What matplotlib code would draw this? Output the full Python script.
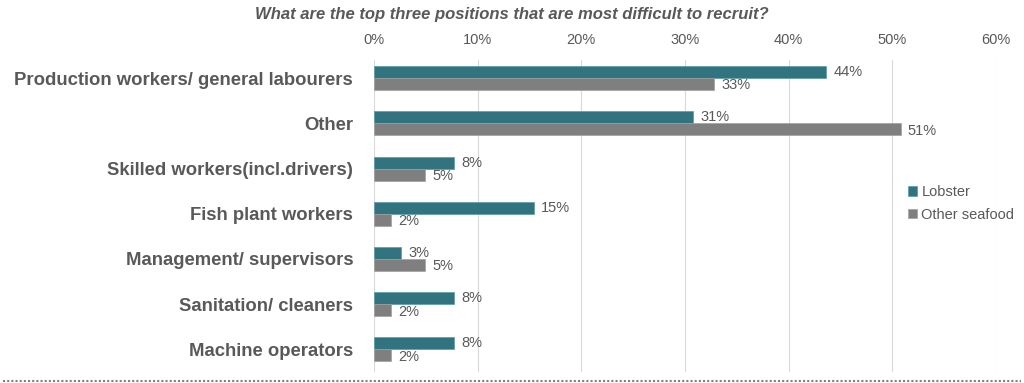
import matplotlib.pyplot as plt
import numpy as np
from matplotlib.lines import Line2D

categories = ["Production workers/ general labourers", "Other",
              "Skilled workers(incl.drivers)", "Fish plant workers",
              "Management/ supervisors", "Sanitation/ cleaners",
              "Machine operators"]
lobster = [43.6, 30.8, 7.7, 15.4, 2.6, 7.7, 7.7]
other_seafood = [32.8, 50.8, 4.9, 1.6, 4.9, 1.6, 1.6]
series_names = ["Lobster", "Other seafood"]

teal = "#31737F"
grey = "#7F7F7F"
txt = "#595959"

plt.rcParams['font.family'] = ['Liberation Sans', 'DejaVu Sans']

fig = plt.figure(figsize=(10.24, 3.83), dpi=100)
ax = fig.add_axes([374/1024, 1 - 372/383, 622/1024, 312/383])

y = np.arange(len(categories))
h = 0.265
b1 = ax.barh(y - h/2, lobster, height=h, color=teal, edgecolor="#5a9aa5", linewidth=0.5, label=series_names[0])
b2 = ax.barh(y + h/2, other_seafood, height=h, color=grey, edgecolor="#a0a0a0", linewidth=0.5, label=series_names[1])

for bars, vals, dy in [(b1, lobster, -h/2), (b2, other_seafood, h/2 + 0.03)]:
    for yi, v in zip(y, vals):
        ax.text(v + 0.7, yi + dy, f"{v:.0f}%", va="center", ha="left", fontsize=10.5, color=txt)

ax.set_xlim(0, 60)
ax.set_ylim(6.5, -0.4)
ax.set_xticks(range(0, 61, 10))
ax.set_xticklabels([f"{t}%" for t in range(0, 61, 10)])
ax.xaxis.tick_top()
ax.tick_params(axis="x", length=0, pad=9, labelsize=10.5, labelcolor=txt)
ax.set_yticks(y)
ax.set_yticklabels(categories, fontsize=13.3, fontweight="bold", color=txt)
ax.tick_params(axis="y", length=0, pad=15)
ax.grid(axis="x", color="#d9d9d9", linewidth=0.8)
ax.set_axisbelow(True)
for s in ax.spines.values():
    s.set_visible(False)

ax.legend(loc="center left", bbox_to_anchor=(0.838, 0.54), frameon=False,
          fontsize=10.5, labelcolor=txt, handlelength=0.6, handleheight=0.6,
          handletextpad=0.3, labelspacing=0.6)

fig.text(0.5, 1 - 14/383, "What are the top three positions that are most difficult to recruit?",
         ha="center", va="center", fontsize=12, fontweight="bold", style="italic", color=txt)

fig.add_artist(Line2D([0.003, 0.997], [1 - 381/383] * 2, transform=fig.transFigure,
                      color="#808080", linestyle=(0, (1, 1)), linewidth=1.5))

fig.savefig("out.png", dpi=100)
